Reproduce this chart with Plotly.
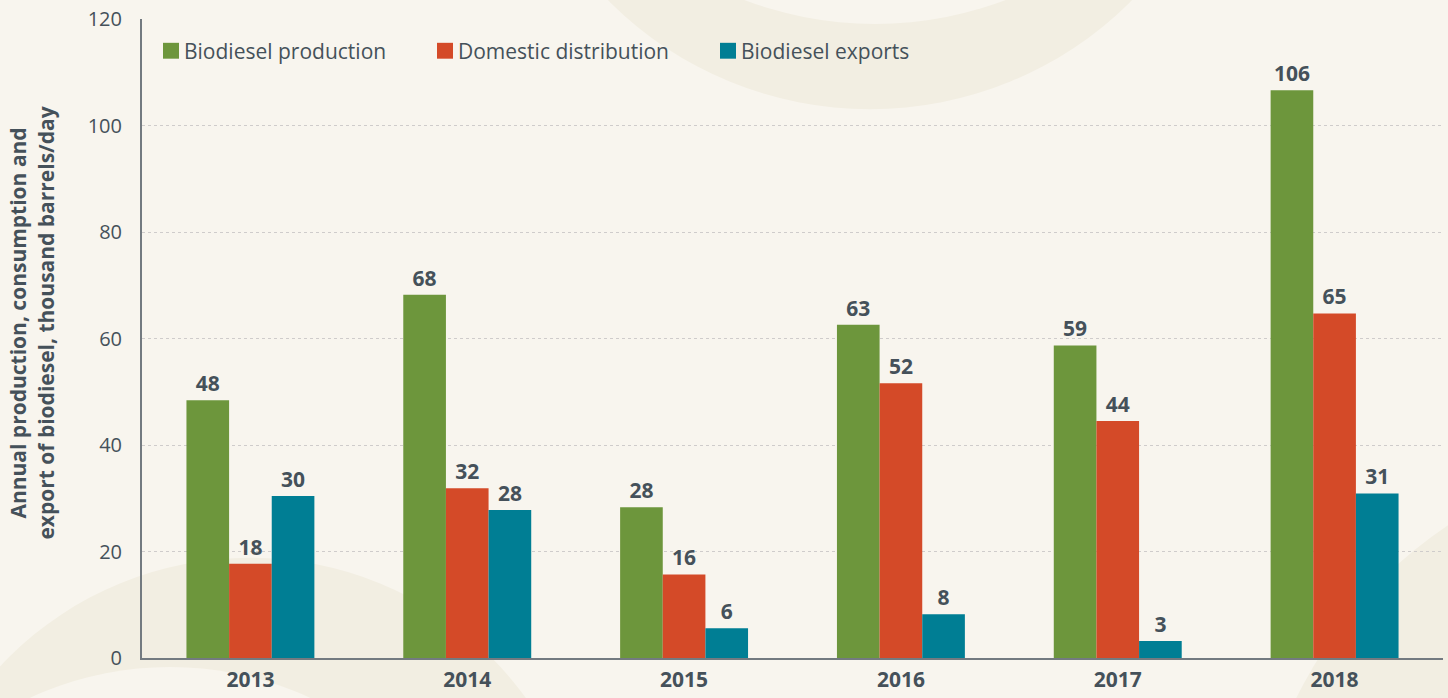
import plotly.graph_objects as go

years = ["2013", "2014", "2015", "2016", "2017", "2018"]
production = [48.4, 68.2, 28.3, 62.6, 58.7, 106.6]
domestic = [17.7, 31.9, 15.7, 51.6, 44.5, 64.7]
exports = [30.4, 27.8, 5.6, 8.2, 3.2, 30.9]
production_labels = ["48", "68", "28", "63", "59", "106"]
domestic_labels = ["18", "32", "16", "52", "44", "65"]
exports_labels = ["30", "28", "6", "8", "3", "31"]
series_names = ["Biodiesel production", "Domestic distribution", "Biodiesel exports"]
series_colors = ["#6d963c", "#d44a28", "#007e94"]

FONT = "Open Sans"
TXT = "#45515a"
BG = "#f8f5ee"
RING = "#f2eee2"

# plot area in pixels
L, R, T, B = 142, 1443, 17, 661
W, H = 1448, 698

def px(x):
    return (x - L) / (R - L)

def py(y):
    return (B - y) / (B - T)

fig = go.Figure()
series = [
    (production, production_labels),
    (domestic, domestic_labels),
    (exports, exports_labels),
]
for (vals, labs), name, col in zip(series, series_names, series_colors):
    fig.add_trace(go.Bar(
        x=years, y=vals, name=name, marker=dict(color=col, line=dict(width=0)),
        text=labs, textposition="outside", cliponaxis=False,
        textfont=dict(family=FONT, size=21, color=TXT, weight="bold"),
        showlegend=False,
    ))

shapes = []
def circle(cx, cy, r, color):
    shapes.append(dict(type="circle", xref="paper", yref="paper", layer="below",
                       x0=px(cx - r), x1=px(cx + r), y0=py(cy + r), y1=py(cy - r),
                       fillcolor=color, line=dict(width=0)))

# decorative background rings
circle(870, -259, 367, RING)
circle(875, -344, 366, BG)
circle(250, 900, 340, RING)
circle(170, 1000, 330, BG)
circle(1700, 900, 450, RING)

annotations = []
# manual legend
legend_sq_x = [163, 437, 720]
for sx, name, col in zip(legend_sq_x, series_names, series_colors):
    shapes.append(dict(type="rect", xref="paper", yref="paper",
                       x0=px(sx), x1=px(sx + 16), y0=py(57), y1=py(41),
                       fillcolor=col, line=dict(width=0)))
    annotations.append(dict(text=name, xref="paper", yref="paper",
                            x=px(sx + 19), y=py(49), xanchor="left", yanchor="middle",
                            showarrow=False, font=dict(size=21, color=TXT, family=FONT)))

annotations.append(dict(
    text="<b>Annual production, consumption and<br>export of biodiesel, thousand barrels/day</b>",
    xref="paper", yref="paper", x=px(32), y=py(324), textangle=-90,
    showarrow=False, font=dict(size=21, color=TXT, family=FONT),
    xanchor="center", yanchor="middle"))

fig.update_layout(
    width=W, height=H,
    margin=dict(l=L, r=W - R, t=T, b=H - B),
    paper_bgcolor=BG, plot_bgcolor="rgba(0,0,0,0)",
    barmode="group", bargap=0.41, bargroupgap=0,
    font=dict(family=FONT, color=TXT),
    shapes=shapes,
    showlegend=False,
    annotations=annotations,
)
fig.update_xaxes(
    showline=True, linecolor="#737a80", linewidth=2, showgrid=False,
    ticks="", tickfont=dict(size=21, color=TXT, family=FONT, weight="bold"),
    ticklabelstandoff=2,
)
fig.update_yaxes(
    range=[0, 120], dtick=20, showline=True, linecolor="#737a80", linewidth=2,
    showgrid=True, gridcolor="#cfcccb", griddash="dot", gridwidth=1,
    zeroline=False, ticks="", tickfont=dict(size=20, color=TXT, family=FONT),
    ticklabelstandoff=14,
)
fig.write_html("out.html", config={"displayModeBar": False},
               post_script="document.body.style.margin='0';document.body.style.background='%s';" % BG)
